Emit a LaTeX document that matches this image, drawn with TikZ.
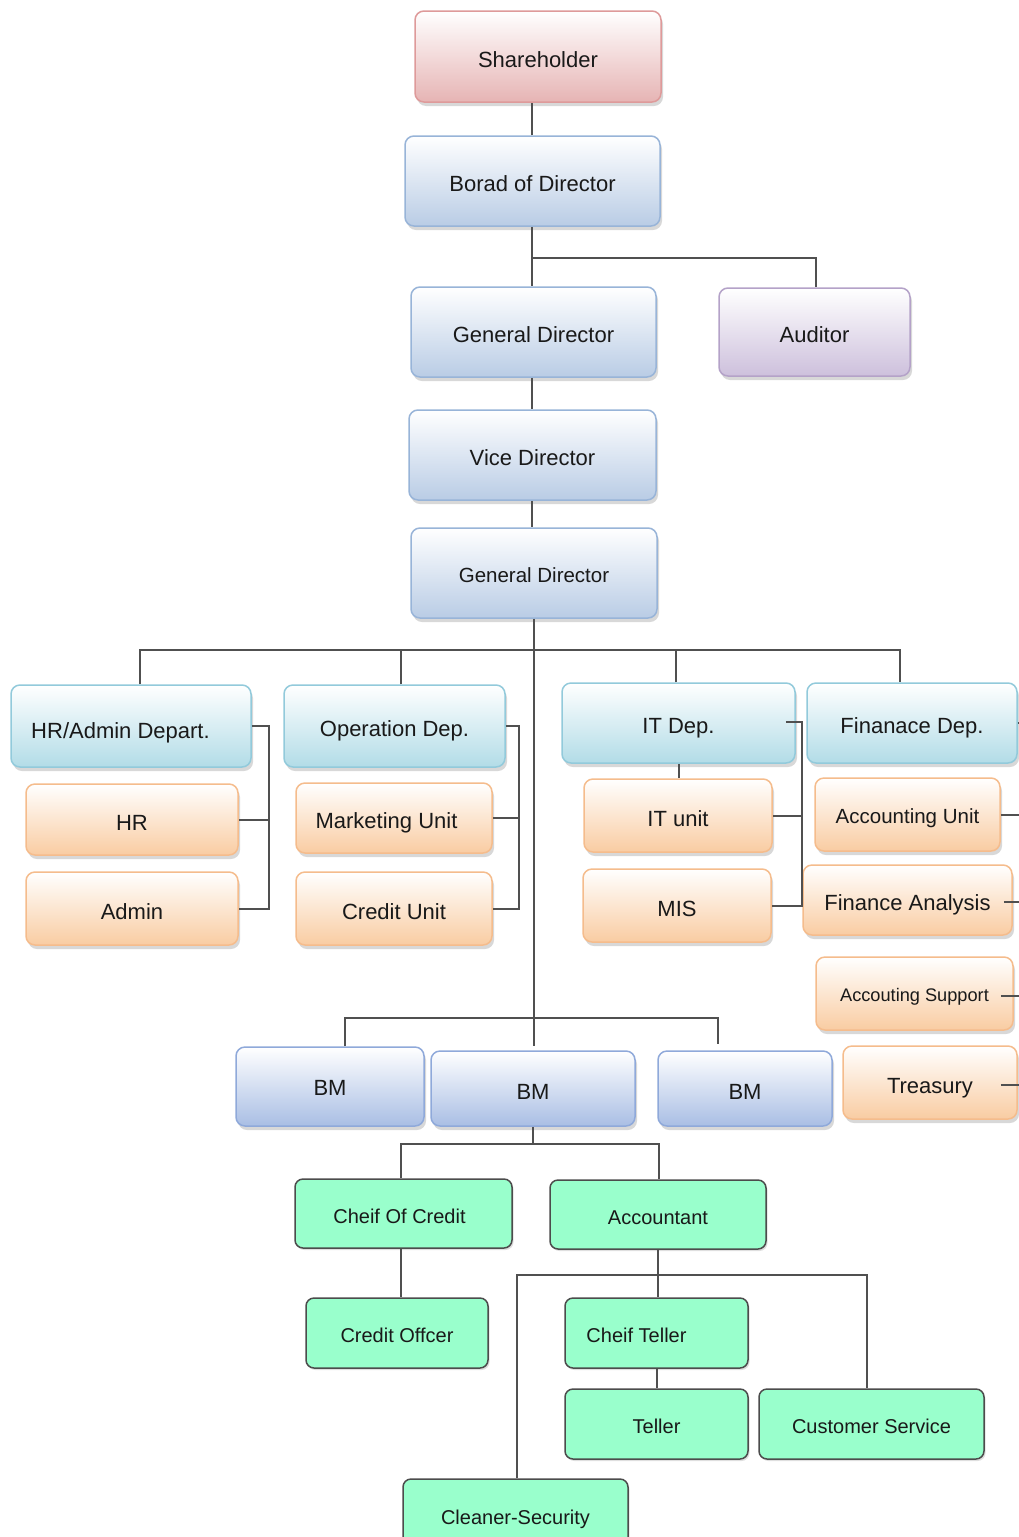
\documentclass[tikz,border=0pt]{standalone}
\usepackage{fontspec}
\setmainfont{Liberation Sans}
\usetikzlibrary{shadows,calc}
\definecolor{pinkF}{HTML}{E6B4B4}
\definecolor{pinkD}{HTML}{DE9A9A}
\definecolor{blueF}{HTML}{B9CCE5}
\definecolor{blueD}{HTML}{98B4D8}
\definecolor{purF}{HTML}{CDC0DC}
\definecolor{purD}{HTML}{B4A2C8}
\definecolor{tealF}{HTML}{B2DCE7}
\definecolor{tealD}{HTML}{92CADB}
\definecolor{oraF}{HTML}{F9CCA2}
\definecolor{oraD}{HTML}{F5BC8C}
\definecolor{bmF}{HTML}{A9BEE4}
\definecolor{bmD}{HTML}{8FA9DA}
\definecolor{grnF}{HTML}{99FFCC}
\definecolor{lineC}{HTML}{505050}
\tikzset{
  base/.style={rectangle, rounded corners=9pt, line width=1.5pt, inner sep=0pt,
    font=\fontsize{22}{26}\selectfont, text=black!90, text height=21pt, text depth=0pt,
    drop shadow={shadow xshift=2pt, shadow yshift=-4pt, opacity=0.3}},
  small/.style={font=\fontsize{#1}{24}\selectfont, text height=0.9*#1 pt},
  pinkbox/.style={base, draw=pinkD, top color=white, bottom color=pinkF},
  bluebox/.style={base, draw=blueD, top color=white, bottom color=blueF},
  purbox/.style={base, draw=purD, top color=white, bottom color=purF},
  tealbox/.style={base, draw=tealD, top color=white, bottom color=tealF},
  orabox/.style={base, draw=oraD, top color=white, bottom color=oraF},
  bmbox/.style={base, draw=bmD, top color=white, bottom color=bmF},
  grnbox/.style={rectangle, rounded corners=8pt, line width=1.5pt, inner sep=0pt,
    draw=black!70, fill=grnF, font=\fontsize{20}{24}\selectfont, text=black!90,
    text height=19pt, text depth=0pt,
    drop shadow={shadow xshift=1.5pt, shadow yshift=-2pt, opacity=0.25}},
  conn/.style={draw=lineC, line width=2pt},
  wh/.style n args={2}{minimum width=#1pt, minimum height=#2pt}
}
\newcommand{\txtshift}[1]{\kern-#1pt}
\begin{document}
\begin{tikzpicture}[x=1pt,y=-1pt]
\useasboundingbox (0,0) rectangle (1019,1537);
\clip (0,0) rectangle (1019,1537);
\fill[white] (0,0) rectangle (1019,1537);

\coordinate (axis) at (532,0);
\coordinate (bus1) at (534,650);
\coordinate (bus2) at (534,1018);

\node[pinkbox, wh={246}{91}] (sh) at (538,56.5) {Shareholder};
\node[bluebox, wh={255}{90}] (bod) at (532.5,181) {Borad of Director};
\node[bluebox, wh={245}{90}] (gd) at (533.5,332) {General Director};
\node[purbox, wh={191}{88}] (aud) at (814.5,332) {Auditor};
\node[bluebox, wh={247}{90}] (vd) at (532.5,455) {Vice Director};
\node[bluebox, wh={246}{90}, small=20.5] (gd2) at (534,573) {General Director};

\draw[conn] (bod.north -| axis) -- (sh.south -| axis);
\draw[conn] (bod.south -| axis) -- (gd.north -| axis);
\draw[conn] ([yshift=-31pt]bod.south -| axis) -| ([xshift=1.5pt]aud.north);
\draw[conn] (gd.south -| axis) -- (vd.north -| axis);
\draw[conn] (vd.south -| axis) -- (gd2.north -| axis);

\node[tealbox, wh={240}{82}, text height=24pt] (hra) at (131,726) {\txtshift{21}HR/Admin Depart.};
\node[tealbox, wh={221}{82}] (op) at (394.5,726) {Operation Dep.};
\node[tealbox, wh={233}{80}] (it) at (678.5,723) {IT Dep.};
\node[tealbox, wh={210}{80}] (fin) at (912,723) {Finanace Dep.};

\node[orabox, wh={212}{71}] (hr) at (132,819.5) {HR};
\node[orabox, wh={212}{73}] (adm) at (132,908.5) {Admin};
\node[orabox, wh={196}{70}] (mk) at (394,818) {\txtshift{15}Marketing Unit};
\node[orabox, wh={196}{73}] (cu) at (394,908.5) {Credit Unit};
\node[orabox, wh={188}{73}] (itu) at (678,815.5) {IT unit};
\node[orabox, wh={188}{73}] (mis) at (677,905.5) {MIS};
\node[orabox, wh={185}{73}, small=20.5] (au) at (907.5,814.5) {Accounting Unit};
\node[orabox, wh={209}{70}] (fa) at (907.5,900) {Finance Analysis};
\node[orabox, wh={197}{73}, small=18.2] (as) at (914.5,993.5) {Accouting Support};
\node[orabox, wh={174}{73}] (tr) at (930,1082.5) {Treasury};

\node[bmbox, wh={188}{79}, text height=18pt] (bm1) at (330,1086.5) {BM};
\node[bmbox, wh={204}{75}] (bm2) at (533,1088.5) {BM};
\node[bmbox, wh={174}{75}] (bm3) at (745,1088.5) {BM};

\draw[conn] (gd2.south -| bus1) -- ([yshift=4pt]bm2.north -| bus1);
\draw[conn] ([xshift=9pt]hra.north) |- (bus1) -| ([xshift=-12pt]fin.north);
\draw[conn] ([xshift=6.5pt]op.north) -- ([xshift=6.5pt]op.north |- bus1);
\draw[conn] ([xshift=-2.5pt]it.north) -- ([xshift=-2.5pt]it.north |- bus1);
\draw[conn] ([xshift=15pt]bm1.north) |- (bus2) -| ([xshift=-27pt,yshift=6pt]bm3.north);

\draw[conn] (hra.east) -- ++(17,0) |- (hr.east);
\draw[conn] ([xshift=17pt]hra.east) |- (adm.east);
\draw[conn] (op.east) -- ++(13,0) |- (mk.east);
\draw[conn] ([xshift=13pt]op.east) |- (cu.east);
\draw[conn] ([xshift=-10pt,yshift=1pt]it.east) -- ++(16,0) |- (itu.east);
\draw[conn] ([xshift=6pt,yshift=1pt]it.east) |- (mis.east);
\draw[conn] (it.south) -- (it.south |- itu.north);

\draw[conn] (fin.east) -- ++(10,0);
\draw[conn] (au.east) -- ++(25,0);
\draw[conn] ([xshift=-9pt,yshift=-2pt]fa.east) -- ++(25,0);
\draw[conn] ([xshift=-13pt,yshift=-2pt]as.east) -- ++(25,0);
\draw[conn] ([xshift=-17pt,yshift=-2pt]tr.east) -- ++(25,0);

\node[grnbox, wh={217}{69}] (coc) at (403.5,1213.5) {\txtshift{8}Cheif Of Credit};
\node[grnbox, wh={216}{69}] (acc) at (658,1214.5) {Accountant};
\node[grnbox, wh={182}{70}] (co) at (397,1333) {Credit Offcer};
\node[grnbox, wh={183}{70}] (ct) at (656.5,1333) {\txtshift{40}Cheif Teller};
\node[grnbox, wh={183}{70}] (tel) at (656.5,1424) {Teller};
\node[grnbox, wh={225}{70}] (cust) at (871.5,1424) {Customer Service};
\node[grnbox, wh={225}{72}] (clean) at (515.5,1515) {Cleaner-Security};

\coordinate (bus3) at ([yshift=-17pt]bm2.south);
\coordinate (bus4) at ([yshift=-25pt]acc.south);
\draw[conn] (bm2.south) -- (bus3);
\draw[conn] ([xshift=-2.5pt]coc.north) |- (bus3) -| ([xshift=1pt]acc.north);
\draw[conn] ([xshift=-2.5pt]coc.south) -- ([xshift=-2.5pt]coc.south |- co.north);
\draw[conn] (acc.south) -- (acc.south |- ct.north);
\draw[conn] (ct.south) -- (tel.north);
\draw[conn] ([xshift=1.5pt]clean.north) |- (bus4) -| ([xshift=-4.5pt]cust.north);
\end{tikzpicture}
\end{document}
